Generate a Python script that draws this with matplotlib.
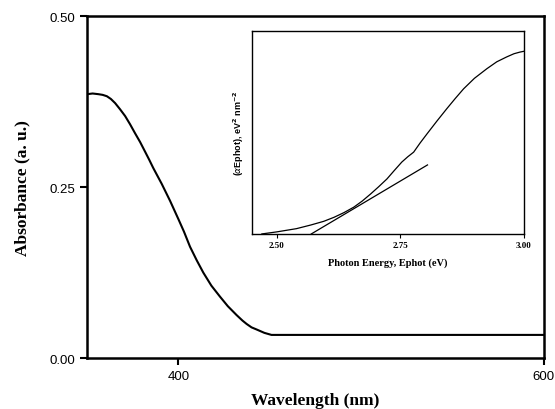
import numpy as np
import matplotlib
matplotlib.use('Agg')
import matplotlib.pyplot as plt

# main absorbance spectrum
wavelength = [350, 353, 356.2, 358.5, 360.8, 363, 365.3, 368, 370.8, 373.5,
              376.2, 379, 381.7, 384, 386.2, 390.8, 395.4, 400, 403, 406.3,
              410, 413.6, 418, 422.7, 427, 431.8, 435, 437.3, 440, 442.7,
              447, 450.9, 470, 520, 600]
absorbance = [0.386, 0.387, 0.386, 0.385, 0.383, 0.379, 0.373, 0.364, 0.354,
              0.342, 0.329, 0.316, 0.302, 0.290, 0.278, 0.255, 0.230, 0.203,
              0.185, 0.163, 0.143, 0.125, 0.106, 0.090, 0.076, 0.063, 0.055,
              0.050, 0.045, 0.042, 0.037, 0.034, 0.034, 0.034, 0.034]

# inset: Tauc plot (arbitrary units)
energy = [2.470, 2.500, 2.540, 2.569, 2.595, 2.616, 2.636, 2.656, 2.673,
          2.690, 2.706, 2.723, 2.738, 2.753, 2.765, 2.777, 2.790, 2.804,
          2.824, 2.844, 2.861, 2.878, 2.900, 2.925, 2.945, 2.965, 2.980,
          2.992, 3.000]
tauc = [0.000, 0.010, 0.026, 0.044, 0.062, 0.082, 0.105, 0.132, 0.162,
        0.197, 0.232, 0.271, 0.313, 0.354, 0.380, 0.403, 0.448, 0.493,
        0.556, 0.617, 0.667, 0.715, 0.767, 0.814, 0.848, 0.872, 0.888,
        0.896, 0.900]
fit_x = [2.570, 2.805]
fit_y = [0.000, 0.340]

serif = ['Liberation Serif', 'DejaVu Serif']
sans = ['Liberation Sans', 'DejaVu Sans']

fig = plt.figure(figsize=(5.55, 4.1), dpi=100)
ax = fig.add_axes([0.157, 0.124, 0.823, 0.834])
ax.plot(wavelength, absorbance, color='black', lw=1.5)
ax.set_xlim(350, 600)
ax.set_ylim(0, 0.5)
ax.set_xticks([400, 600])
ax.set_yticks([0.0, 0.25, 0.5])
ax.set_yticklabels(['0.00', '0.25', '0.50'])
for s in ax.spines.values():
    s.set_linewidth(1.8)
ax.tick_params(width=1.5, length=5, labelsize=9.5)
for lb in ax.get_xticklabels() + ax.get_yticklabels():
    lb.set_family(sans)
ax.set_xlabel('Wavelength (nm)', family=serif, fontweight='bold', fontsize=12.5, labelpad=7)
ax.set_ylabel('Absorbance (a. u.)', family=serif, fontweight='bold', fontsize=12.5, labelpad=14)

ins = fig.add_axes([0.454, 0.427, 0.490, 0.495])
ins.plot(energy, tauc, color='black', lw=0.9)
ins.plot(fit_x, fit_y, color='black', lw=0.9)
ins.set_xlim(2.45, 3.0)
ins.set_ylim(0, 1.0)
ins.set_xticks([2.5, 2.75, 3.0])
ins.set_xticklabels(['2.50', '2.75', '3.00'])
ins.set_yticks([])
for s in ins.spines.values():
    s.set_linewidth(1.0)
ins.tick_params(axis='x', width=0.8, length=3, labelsize=6.5, pad=2)
for lb in ins.get_xticklabels():
    lb.set_family(serif)
    lb.set_fontweight('bold')
ins.set_xlabel('Photon Energy, Ephot (eV)', family=serif, fontweight='bold', fontsize=7.5, labelpad=6)
ins.set_ylabel(r'($\alpha$Ephot), eV$^{\mathbf{2}}$ nm$^{\mathbf{-2}}$', family=sans,
               fontweight='bold', fontsize=6.5, labelpad=4)

fig.savefig('out.png', dpi=100)
